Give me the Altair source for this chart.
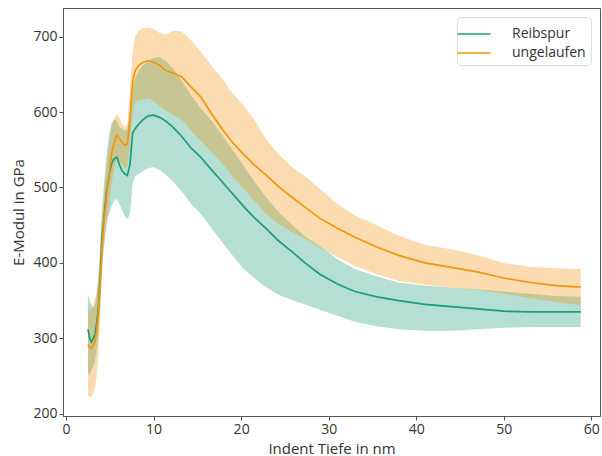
import altair as alt
import pandas as pd

# Indent depth (nm)
x_vals = [2.5, 2.7, 2.9, 3.1, 3.3, 3.5, 3.7, 3.9, 4.1, 4.3, 4.6, 4.9, 5.2, 5.5, 5.8,
          6.1, 6.4, 6.7, 7.0, 7.3, 7.6, 7.9, 8.3, 8.8, 9.4, 10.0, 10.7, 11.4, 12.2,
          13.2, 14.3, 15.4, 16.5, 17.8, 19.0, 20.2, 21.5, 22.8, 24.2, 25.7, 27.3,
          29.0, 31.0, 33.0, 35.5, 38.0, 41.0, 44.0, 47.0, 50.0, 53.0, 56.0, 58.8]

# Reibspur (teal)
reib_mean = [312, 300, 295, 300, 305, 320, 342, 380, 435, 457, 492, 515, 532, 538, 540,
             530, 522, 518, 516, 530, 572, 578, 584, 590, 595, 596, 593, 588, 580,
             568, 552, 540, 525, 508, 492, 476, 460, 446, 430, 416, 400,
             385, 372, 362, 355, 350, 345, 342, 339, 336, 335, 335, 335]
reib_low = [255, 252, 258, 262, 270, 285, 305, 340, 390, 420, 450, 465, 475, 482, 485,
            478, 470, 462, 458, 465, 505, 515, 518, 522, 526, 527, 523, 517, 508,
            495, 478, 465, 448, 428, 410, 393, 380, 368, 358, 351, 345,
            338, 330, 322, 316, 312, 310, 310, 312, 314, 315, 315, 315]
reib_high = [358, 350, 345, 340, 345, 360, 385, 420, 470, 500, 540, 570, 585, 590, 588,
             580, 578, 575, 578, 600, 630, 645, 655, 662, 668, 672, 673, 668, 658,
             642, 622, 605, 590, 570, 550, 530, 508, 488, 468, 452, 435,
             422, 405, 392, 382, 374, 370, 367, 365, 362, 359, 356, 355]

# ungelaufen (orange)
ung_mean = [292, 288, 287, 290, 296, 310, 335, 372, 420, 452, 485, 515, 545, 560, 569,
            565, 560, 556, 558, 590, 640, 655, 662, 666, 668, 666, 662, 655, 652,
            647, 633, 620, 600, 578, 560, 545, 530, 517, 502, 488, 474,
            459, 446, 434, 421, 410, 400, 394, 388, 380, 374, 370, 368]
ung_low = [225, 222, 223, 228, 235, 250, 280, 330, 385, 420, 450, 475, 505, 525, 540,
           535, 530, 525, 528, 555, 600, 612, 615, 617, 618, 615, 608, 602, 596,
           590, 575, 562, 548, 533, 515, 500, 482, 466, 452, 442, 432,
           420, 408, 396, 385, 376, 371, 367, 364, 359, 353, 348, 344]
ung_high = [345, 335, 340, 345, 352, 360, 380, 415, 460, 490, 525, 555, 580, 592, 597,
            592, 585, 580, 585, 630, 680, 700, 708, 711, 712, 710, 705, 703, 708,
            707, 695, 680, 663, 645, 625, 610, 590, 565, 545, 528, 515,
            498, 478, 463, 450, 436, 424, 418, 410, 400, 395, 393, 392]

series_names = ["Reibspur", "ungelaufen"]
series_colors = ["#1b9e77", "#f0960e"]

rows = []
for name, m, lo, hi in [("Reibspur", reib_mean, reib_low, reib_high),
                        ("ungelaufen", ung_mean, ung_low, ung_high)]:
    for x, a, b, c in zip(x_vals, m, lo, hi):
        rows.append({"x": x, "series": name, "mean": a, "low": b, "high": c})
df = pd.DataFrame(rows)

xscale = alt.Scale(domain=[-0.35, 61.0], nice=False, zero=False)
yscale = alt.Scale(domain=[197, 738], nice=False, zero=False)

xaxis = alt.Axis(title="Indent Tiefe in nm", values=[0, 10, 20, 30, 40, 50, 60],
                 grid=False, tickSize=4, labelPadding=2, titlePadding=5)
yaxis = alt.Axis(title="E-Modul in GPa", values=[200, 300, 400, 500, 600, 700],
                 grid=False, tickSize=4, labelPadding=2, titlePadding=6)

base = alt.Chart(df)

band_teal = base.transform_filter(alt.datum.series == "Reibspur").mark_area(
    color=series_colors[0], opacity=0.33, interpolate="linear"
).encode(
    x=alt.X("x:Q", scale=xscale, axis=xaxis),
    y=alt.Y("low:Q", scale=yscale, axis=yaxis),
    y2="high:Q",
)

band_orange = base.transform_filter(alt.datum.series == "ungelaufen").mark_area(
    color=series_colors[1], opacity=0.33, interpolate="linear"
).encode(
    x=alt.X("x:Q", scale=xscale),
    y=alt.Y("low:Q", scale=yscale),
    y2="high:Q",
)

lines = base.mark_line(strokeWidth=1.7).encode(
    x=alt.X("x:Q", scale=xscale),
    y=alt.Y("mean:Q", scale=yscale),
    color=alt.Color("series:N",
                    scale=alt.Scale(domain=series_names, range=series_colors),
                    legend=alt.Legend(title=None, orient="none", legendX=394, legendY=9,
                                      symbolType="M-1.5,0H1.5", symbolSize=484,
                                      symbolStrokeWidth=2, symbolOpacity=0.75,
                                      labelFontSize=14,
                                      labelColor="#333333", labelFont="Open Sans",
                                      padding=5, rowPadding=0, labelOffset=26,
                                      offset=0,
                                      strokeColor="#dddddd", fillColor="white",
                                      cornerRadius=4)),
)

chart = alt.layer(band_teal, band_orange, lines).properties(
    width=537, height=408,
    padding={"left": 63, "top": 8, "right": 2, "bottom": 40},
    autosize=alt.AutoSizeParams(type="none"),
).configure_view(
    stroke="#555555", strokeWidth=1
).configure_axis(
    labelFont="Open Sans", titleFont="Open Sans",
    labelFontSize=14, titleFontSize=15,
    labelColor="#333333", titleColor="#333333",
    titleFontWeight="normal",
    domainColor="#555555", tickColor="#555555",
)

chart.save("out.html", embed_options={"renderer": "svg", "actions": False})
